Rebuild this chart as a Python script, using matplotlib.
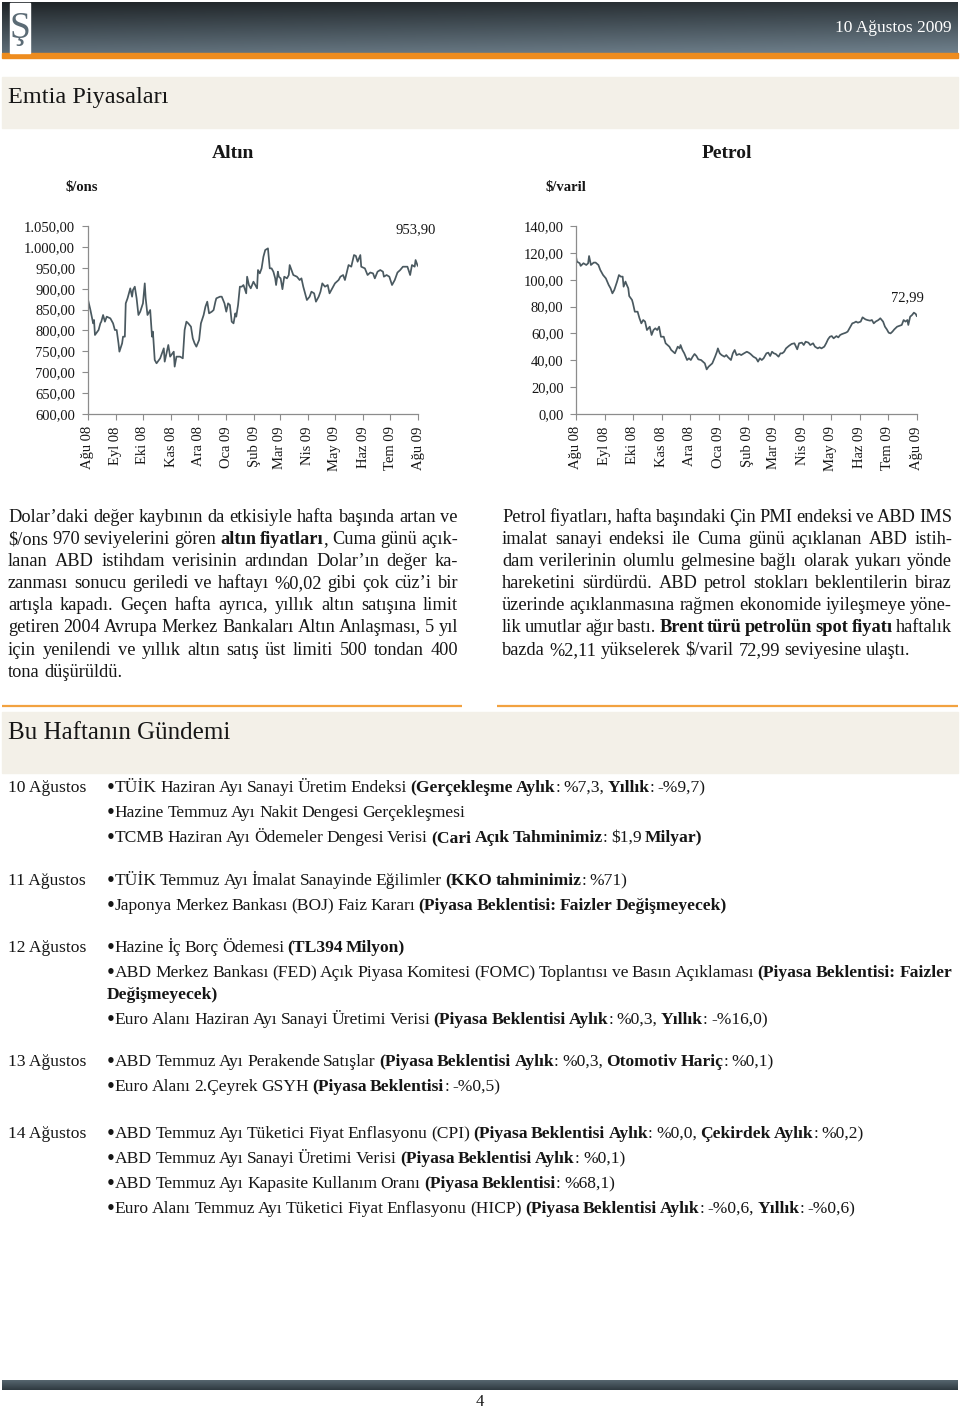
import numpy as np
import pandas as pd
import matplotlib
matplotlib.use("Agg")
import matplotlib.pyplot as plt
from matplotlib.patches import Rectangle
from matplotlib.colors import LinearSegmentedColormap
from matplotlib.ticker import FuncFormatter

plt.rcParams['text.parse_math'] = False
SERIF = ['Liberation Serif', 'DejaVu Serif']
plt.rcParams['font.family'] = SERIF

# ---------------- data ----------------
start_date = "2008-08-01"
month_labels = ['Ağu 08', 'Eyl 08', 'Eki 08', 'Kas 08', 'Ara 08', 'Oca 09', 'Şub 09',
                'Mar 09', 'Nis 09', 'May 09', 'Haz 09', 'Tem 09', 'Ağu 09']

gold_days = [0, 3, 6, 7, 8, 12, 14, 15, 17, 19,
             21, 25, 28, 30, 32, 34, 35, 38, 39, 41,
             42, 44, 47, 49, 50, 52, 54, 56, 58, 61,
             63, 64, 66, 69, 71, 72, 74, 76, 80, 84,
             85, 89, 91, 95, 96, 98, 102, 105, 107, 109,
             111, 114, 116, 118, 120, 123, 125, 128, 130, 132,
             134, 137, 139, 141, 142, 146, 148, 151, 153, 155,
             157, 159, 161, 163, 164, 166, 168, 170, 172, 175,
             176, 178, 180, 183, 185, 187, 188, 190, 192, 194,
             196, 199, 201, 203, 205, 207, 208, 210, 211, 213,
             215, 217, 220, 222, 223, 225, 227, 231, 234, 236,
             238, 240, 242, 245, 247, 250, 252, 255, 257, 259,
             262, 265, 267, 269, 271, 273, 277, 279, 282, 284,
             288, 291, 294, 296, 298, 301, 302, 306, 309, 312,
             315, 317, 320, 323, 326, 327, 330, 333, 336, 339,
             342, 345, 348, 353, 356, 358, 361, 362, 364, 365]
gold_price = [877, 849, 817, 825, 789, 801, 817, 821, 837, 821,
              833, 829, 817, 801, 801, 769, 749, 769, 785, 785,
              865, 877, 901, 881, 897, 905, 877, 837, 845, 865,
              913, 877, 837, 849, 785, 797, 729, 721, 733, 757,
              725, 765, 737, 749, 713, 737, 737, 733, 801, 821,
              817, 809, 781, 769, 761, 777, 817, 837, 857, 869,
              841, 845, 849, 869, 877, 881, 881, 865, 845, 865,
              861, 821, 817, 841, 833, 861, 905, 905, 909, 889,
              929, 909, 901, 917, 909, 901, 945, 937, 949, 977,
              993, 997, 949, 949, 941, 925, 909, 941, 929, 925,
              899, 929, 925, 933, 957, 945, 933, 929, 921, 925,
              905, 889, 873, 881, 893, 889, 869, 881, 893, 913,
              905, 909, 889, 897, 905, 913, 921, 929, 933, 921,
              957, 953, 981, 979, 965, 981, 953, 949, 933, 939,
              937, 925, 941, 945, 941, 929, 933, 929, 909, 921,
              939, 945, 953, 953, 933, 957, 953, 969, 957, 953.90]

oil_days = [0, 1, 4, 5, 8, 11, 13, 14, 16, 19,
            21, 24, 26, 29, 32, 35, 37, 39, 41, 44,
            46, 48, 50, 51, 53, 54, 56, 57, 60, 61,
            63, 66, 68, 70, 72, 74, 76, 79, 81, 83,
            85, 87, 89, 91, 94, 96, 98, 100, 102, 104,
            106, 109, 111, 112, 114, 116, 119, 121, 123, 125,
            127, 129, 131, 134, 136, 138, 140, 142, 144, 146,
            149, 151, 152, 154, 156, 159, 161, 163, 166, 168,
            170, 172, 175, 177, 180, 183, 185, 187, 190, 193,
            195, 197, 199, 201, 204, 206, 208, 210, 212, 214,
            217, 219, 221, 223, 225, 228, 231, 234, 236, 237,
            239, 242, 244, 246, 249, 251, 254, 256, 259, 261,
            263, 266, 268, 270, 272, 274, 276, 279, 281, 283,
            285, 287, 289, 291, 294, 296, 298, 300, 302, 305,
            307, 310, 312, 315, 317, 319, 321, 324, 326, 329,
            331, 333, 335, 337, 339, 341, 344, 346, 349, 351,
            353, 355, 356, 358, 360, 362, 364, 365]
oil_price = [117.3, 113.6, 112.4, 110.4, 112.4, 111.1, 112.4, 117.8, 111.1, 112.9,
             112.9, 111.1, 107.4, 103.6, 101.1, 96.2, 93.7, 89.9, 92.4, 98.7,
             103.6, 102.4, 102.4, 94.9, 98.7, 96.9, 93.7, 87.9, 85.0, 82.5,
             76.2, 76.2, 71.3, 67.5, 70.0, 68.8, 62.5, 65.0, 58.8, 62.5,
             63.8, 62.5, 65.0, 57.5, 57.5, 52.6, 51.3, 50.1, 47.6, 46.3,
             45.1, 50.1, 48.8, 51.3, 47.6, 45.1, 40.1, 41.4, 40.1, 42.6,
             44.6, 43.1, 40.6, 40.1, 38.9, 37.6, 33.1, 35.1, 36.4, 37.6,
             42.6, 46.3, 48.8, 45.1, 43.8, 42.6, 43.8, 42.1, 40.1, 45.1,
             47.6, 43.8, 44.6, 43.8, 45.1, 46.3, 45.6, 44.6, 42.6, 41.4,
             38.9, 41.4, 40.1, 41.4, 45.1, 45.6, 43.1, 46.3, 45.1, 44.6,
             42.6, 45.1, 45.1, 46.3, 48.8, 50.6, 52.1, 52.6, 49.6, 48.1,
             52.6, 53.1, 51.3, 53.8, 53.1, 51.3, 52.6, 50.1, 48.8, 49.6,
             48.8, 50.1, 52.6, 55.6, 57.5, 58.0, 56.3, 58.0, 57.0, 58.8,
             59.5, 60.0, 60.5, 61.3, 65.0, 67.5, 68.0, 68.8, 68.0, 68.8,
             72.0, 70.5, 70.0, 69.5, 70.0, 67.5, 68.8, 70.0, 71.3, 68.8,
             65.0, 63.0, 60.5, 60.0, 61.3, 63.0, 65.0, 65.5, 66.3, 70.0,
             68.8, 70.0, 66.3, 72.5, 73.7, 75.5, 74.5, 72.99]

gold_ticks = [600, 650, 700, 750, 800, 850, 900, 950, 1000, 1050]
oil_ticks = [0, 20, 40, 60, 80, 100, 120, 140]

left_paragraph = [
    [("Dolar’daki değer kaybının da etkisiyle hafta başında artan ve", False)],
    [("$/ons 970 seviyelerini gören ", False), ("altın fiyatları", True), (", Cuma günü açık-", False)],
    [("lanan ABD istihdam verisinin ardından Dolar’ın değer ka-", False)],
    [("zanması sonucu geriledi ve haftayı %0,02 gibi çok cüz’i bir", False)],
    [("artışla kapadı. Geçen hafta ayrıca, yıllık altın satışına limit", False)],
    [("getiren 2004 Avrupa Merkez Bankaları Altın Anlaşması, 5 yıl", False)],
    [("için yenilendi ve yıllık altın satış üst limiti 500 tondan 400", False)],
    [("tona düşürüldü.", False)],
]
right_paragraph = [
    [("Petrol fiyatları, hafta başındaki Çin PMI endeksi ve ABD IMS", False)],
    [("imalat sanayi endeksi ile Cuma günü açıklanan ABD istih-", False)],
    [("dam verilerinin olumlu gelmesine bağlı olarak yukarı yönde", False)],
    [("hareketini sürdürdü. ABD petrol stokları beklentilerin biraz", False)],
    [("üzerinde açıklanmasına rağmen ekonomide iyileşmeye yöne-", False)],
    [("lik umutlar ağır bastı. ", False), ("Brent türü petrolün spot fiyatı", True), (" haftalık", False)],
    [("bazda %2,11 yükselerek $/varil 72,99 seviyesine ulaştı.", False)],
]

agenda = [
    ("10 Ağustos", [
        [("•TÜİK Haziran Ayı Sanayi Üretim Endeksi ", False), ("(Gerçekleşme Aylık", True), (": %7,3, ", False),
         ("Yıllık", True), (": -%9,7)", False)],
        [("•Hazine Temmuz Ayı Nakit Dengesi Gerçekleşmesi", False)],
        [("•TCMB Haziran Ayı Ödemeler Dengesi Verisi ", False), ("(Cari Açık Tahminimiz", True),
         (": $1,9 ", False), ("Milyar)", True)],
    ]),
    ("11 Ağustos", [
        [("•TÜİK Temmuz Ayı İmalat Sanayinde Eğilimler ", False), ("(KKO tahminimiz", True), (": %71)", False)],
        [("•Japonya  Merkez Bankası (BOJ) Faiz Kararı ", False), ("(Piyasa Beklentisi: Faizler Değişmeyecek)", True)],
    ]),
    ("12 Ağustos", [
        [("•Hazine İç Borç Ödemesi ", False), ("(TL394 Milyon)", True)],
        [("•ABD Merkez Bankası (FED) Açık Piyasa Komitesi (FOMC) Toplantısı ve Basın Açıklaması ", False),
         ("(Piyasa Beklentisi: Faizler", True)],
        [("Değişmeyecek)", True)],
        [("•Euro Alanı Haziran Ayı Sanayi Üretimi Verisi ", False), ("(Piyasa Beklentisi Aylık", True),
         (": %0,3, ", False), ("Yıllık", True), (": -%16,0)", False)],
    ]),
    ("13 Ağustos", [
        [("•ABD Temmuz Ayı Perakende Satışlar ", False), ("(Piyasa Beklentisi Aylık", True), (": %0,3, ", False),
         ("Otomotiv Hariç", True), (": %0,1)", False)],
        [("•Euro Alanı 2.Çeyrek GSYH  ", False), ("(Piyasa Beklentisi", True), (": -%0,5)", False)],
    ]),
    ("14 Ağustos", [
        [("•ABD Temmuz Ayı Tüketici Fiyat Enflasyonu (CPI) ", False), ("(Piyasa Beklentisi Aylık", True),
         (": %0,0, ", False), ("Çekirdek Aylık", True), (": %0,2)", False)],
        [("•ABD Temmuz Ayı Sanayi Üretimi Verisi ", False), ("(Piyasa Beklentisi Aylık", True), (": %0,1)", False)],
        [("•ABD Temmuz Ayı Kapasite Kullanım Oranı ", False), ("(Piyasa Beklentisi", True), (": %68,1)", False)],
        [("•Euro Alanı Temmuz Ayı Tüketici Fiyat Enflasyonu (HICP) ", False), ("(Piyasa Beklentisi Aylık", True),
         (": -%0,6, ", False), ("Yıllık", True), (": -%0,6)", False)],
    ]),
]

# ---------------- figure ----------------
W, H = 960, 1411
fig = plt.figure(figsize=(W / 100, H / 100), dpi=100)
bg = fig.add_axes([0, 0, 1, 1])
bg.axis('off')
TEXT = '#161616'
LINE = '#4a5960'
SPINE = '#8c8c8c'

# header gradient
hy = np.linspace(0, 1, 60)[:, None]
hx = np.linspace(0, 1, 300)[None, :]
grad = 0.8 * hy + 0.2 * hx
hcmap = LinearSegmentedColormap.from_list('h', ['#1f2427', '#46525a', '#6f808c'])
bg.imshow(grad, extent=(2, 958, 53, 2), aspect='auto', cmap=hcmap, origin='upper', zorder=1)
bg.add_patch(Rectangle((2, 53), 956, 4.5, color='#ee8c1e', zorder=2))
bg.add_patch(Rectangle((10, 3), 19.5, 50, color='white', zorder=3))
bg.text(19.8, 29, 'Ş', fontsize=27, color='#5b6b75', ha='center', va='center', zorder=4)
bg.text(952, 28, '10 Ağustos 2009', fontsize=12.5, color='white', ha='right', va='center', zorder=4)

# footer bar
fgrad = np.linspace(0, 1, 20)[:, None] * np.ones((1, 10))
fcmap = LinearSegmentedColormap.from_list('f', ['#56656e', '#2f3a41'])
bg.imshow(fgrad, extent=(2, 958, 1390, 1380), aspect='auto', cmap=fcmap, origin='upper', zorder=1)
bg.text(480, 1402, '4', fontsize=12, color=TEXT, ha='center', va='center')

# section bands
BAND = '#f3f0e8'
bg.add_patch(Rectangle((2, 77), 956, 51, color=BAND, zorder=0.5))
bg.add_patch(Rectangle((2, 712), 956, 61, color=BAND, zorder=0.5))
bg.text(8, 98, 'Emtia Piyasaları', fontsize=17.5, color=TEXT, ha='left', va='center')
bg.text(8, 733, 'Bu Haftanın Gündemi', fontsize=18, color=TEXT, ha='left', va='center')
bg.plot([2, 462], [705.5, 705.5], color='#f2a240', lw=1.6, solid_capstyle='butt')
bg.plot([497, 958], [705.5, 705.5], color='#f2a240', lw=1.6, solid_capstyle='butt')

# chart titles
bg.text(233.5, 153, 'Altın', fontsize=14, fontweight='bold', color=TEXT, ha='center', va='center')
bg.text(726.5, 153, 'Petrol', fontsize=14, fontweight='bold', color=TEXT, ha='center', va='center')
bg.text(66, 188, '$/ons', fontsize=10.5, fontweight='bold', color=TEXT, ha='left', va='center')
bg.text(546, 187, '$/varil', fontsize=10.5, fontweight='bold', color=TEXT, ha='left', va='center')

bg.set_xlim(0, W)
bg.set_ylim(H, 0)


def tr_fmt(v, pos=None):
    s = f"{v:,.2f}"
    return s.replace(',', '#').replace('.', ',').replace('#', '.')


def make_chart(l, r, t, b, days, vals, ticks, label_offset):
    ax = fig.add_axes([l / W, 1 - b / H, (r - l) / W, (b - t) / H])
    ax.patch.set_alpha(0)
    dates = pd.Timestamp(start_date) + pd.to_timedelta(days, unit='D')
    ax.plot(dates, vals, color=LINE, lw=1.25)
    ax.set_xlim(dates[0], dates[-1])
    ax.set_ylim(ticks[0], ticks[-1])
    ax.set_yticks(ticks)
    ax.yaxis.set_major_formatter(FuncFormatter(tr_fmt))
    mticks = pd.date_range(start_date, periods=len(month_labels), freq='MS')
    ax.set_xticks(mticks)
    ax.set_xticklabels(month_labels, rotation=90)
    for s in ('top', 'right'):
        ax.spines[s].set_visible(False)
    for s in ('left', 'bottom'):
        ax.spines[s].set_color(SPINE)
        ax.spines[s].set_linewidth(0.9)
    ax.tick_params(axis='both', direction='out', length=4, width=0.8, color=SPINE,
                   labelsize=10.5, labelcolor=TEXT, pad=5)
    ax.annotate(tr_fmt(vals[-1]), xy=(dates[-1], vals[-1]), xytext=label_offset,
                textcoords='offset pixels', ha='center', va='center', fontsize=10.5, color=TEXT,
                annotation_clip=False)
    return ax


make_chart(87.7, 418.3, 226.3, 413.7, gold_days, gold_price, gold_ticks, (-3, 37))
make_chart(576, 916.7, 226.3, 413.7, oil_days, oil_price, oil_ticks, (-9, 18))

# ---------------- justified text ----------------
R = fig.canvas.get_renderer()
_cache = {}


def ext_w(s, size, bold):
    key = (s, size, bold)
    if key not in _cache:
        t = bg.text(0, 0, s, fontsize=size, fontweight='bold' if bold else 'normal')
        _cache[key] = t.get_window_extent(R).width
        t.remove()
    return _cache[key]


def adv_w(s, size, bold):
    # advance-like width of s (ink of a following bar removed)
    return ext_w(s + '|', size, bold) - ext_w('|', size, bold)


def space_w(size):
    return ext_w('n n', size, False) - ext_w('nn', size, False)


def draw_runs(x, y, runs, size=12, width=None, bullet_scale=1.0, bullet_dy=0.0, space_factor=1.0):
    words = [[]]
    for txt, b in runs:
        parts = txt.split(' ')
        for i, p in enumerate(parts):
            if i > 0:
                words.append([])
            if p:
                if p.startswith('•'):
                    words[-1].append(('•', b, size * bullet_scale, bullet_dy))
                    p = p[1:]
                if p:
                    words[-1].append((p, b, size, 0.0))
    words = [w for w in words if w]
    items = []
    for w in words:
        pieces = []
        tot = 0.0
        for p, b, sz, dy in w:
            t = bg.text(0, y + dy, p, fontsize=sz, fontweight='bold' if b else 'normal',
                        va='baseline', ha='left', color=TEXT)
            wd = adv_w(p, sz, b)
            pieces.append((t, wd))
            tot += wd
        items.append((pieces, tot))
    gap = space_w(size) * space_factor
    if width is not None and len(items) > 1:
        gap = (width - sum(it[1] for it in items)) / (len(items) - 1)
    cx = x
    for pieces, tot in items:
        px = cx
        for t, wd in pieces:
            t.set_x(px)
            px += wd
        cx += tot + gap


PSIZE = 13.2
for i, line in enumerate(left_paragraph):
    y = 517 + i * 22.1 + 5
    last = i == len(left_paragraph) - 1
    draw_runs(8, y, line, PSIZE, None if last else 450)
for i, line in enumerate(right_paragraph):
    y = 517 + i * 22.1 + 5
    last = i == len(right_paragraph) - 1
    draw_runs(502, y, line, PSIZE, None if last else 450)

ASIZE = 12.6
agenda_y = [[787, 812, 837], [880, 905], [947, 972, 994, 1019], [1061, 1086], [1133, 1158, 1183, 1208]]
for (day, lines), ys in zip(agenda, agenda_y):
    bg.text(8, ys[0] + 5, day, fontsize=ASIZE, color=TEXT, ha='left', va='baseline')
    for line, y in zip(lines, ys):
        wide = line[-1][0] == "(Piyasa Beklentisi: Faizler"
        draw_runs(107, y + 5, line, ASIZE, 845 if wide else None,
                  bullet_scale=1.3, bullet_dy=1.8, space_factor=0.75)

fig.savefig('out.png', dpi=100)
